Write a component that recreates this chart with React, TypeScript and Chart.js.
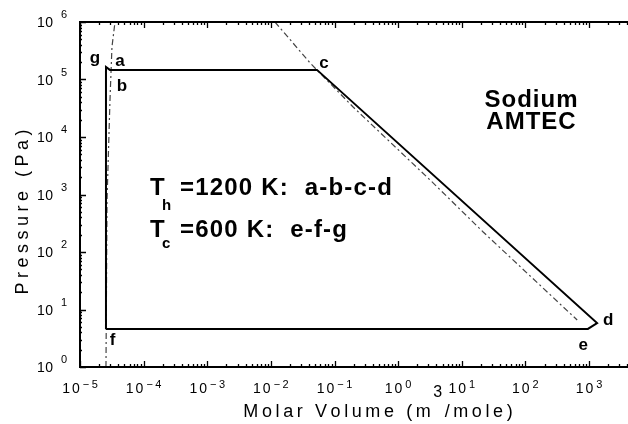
import React, { useEffect, useRef } from 'react';
import { Chart, registerables } from 'chart.js';

Chart.register(...registerables);

// ---- Data ----
// Closed cycle path f -> g -> a/b -> c -> d -> e -> f  (molar volume m^3/mole, pressure Pa)
const cycleVolume = [2.56e-5, 2.56e-5, 2.95e-5, 0.053, 1340, 960, 2.56e-5];
const cyclePressure = [4.6, 1.65e5, 1.47e5, 1.47e5, 5.8, 4.6, 4.6];

// Dash-dot curve near the liquid volume
const liquidVolume = [2.56e-5, 2.66e-5, 2.96e-5, 3.18e-5, 3.55e-5];
const liquidPressure = [1, 800, 4.4e4, 3.7e5, 1e6];

// Dash-dot curve near the hot isotherm
const vaporVolume = [0.0116, 0.0413, 0.196, 3.18, 21.7, 652];
const vaporPressure = [1e6, 1.94e5, 3.33e4, 1786, 223, 6.56];

// State point letters (placed in data space, baseline-centre)
const pointLabels = ['g', 'a', 'b', 'c', 'd', 'e', 'f'];
const pointLabelVolume = [1.72e-5, 4.26e-5, 4.57e-5, 0.0685, 2004, 811, 3.24e-5];
const pointLabelPressure = [1.94e5, 1.72e5, 6.3e4, 1.58e5, 5.37, 1.98, 2.41];

// Axis ticks (decades) and their exponent labels
const xTickExps = [-5, -4, -3, -2, -1, 0, 1, 2, 3];
const xTickLabels = ['\u22125', '\u22124', '\u22123', '\u22122', '\u22121', '0', '1', '2', '3'];
const yTickExps = [0, 1, 2, 3, 4, 5, 6];
const yTickLabels = ['0', '1', '2', '3', '4', '5', '6'];

const FONT = '"Liberation Sans", Arial, Helvetica, sans-serif';

type TextOpt = { align?: 'left' | 'center' | 'right'; ls?: number; weight?: string; rotate?: number };

function setFont(ctx: CanvasRenderingContext2D, size: number, weight: string) {
  ctx.font = `${weight} ${size}px ${FONT}`;
}

function textWidth(ctx: CanvasRenderingContext2D, text: string, size: number, ls = 0, weight = 'normal') {
  ctx.save();
  setFont(ctx, size, weight);
  let w = 0;
  if (ls === 0) {
    w = ctx.measureText(text).width;
  } else {
    for (const ch of Array.from(text)) w += ctx.measureText(ch).width;
    w += ls * Math.max(0, Array.from(text).length - 1);
  }
  ctx.restore();
  return w;
}

function drawText(ctx: CanvasRenderingContext2D, text: string, x: number, y: number, size: number, opt: TextOpt = {}) {
  const { align = 'left', ls = 0, weight = 'normal', rotate = 0 } = opt;
  const w = textWidth(ctx, text, size, ls, weight);
  ctx.save();
  ctx.translate(x, y);
  if (rotate) ctx.rotate(rotate);
  setFont(ctx, size, weight);
  ctx.textAlign = 'left';
  ctx.textBaseline = 'alphabetic';
  ctx.fillStyle = '#000';
  let cx = align === 'left' ? 0 : align === 'center' ? -w / 2 : -w;
  if (ls === 0) {
    ctx.fillText(text, cx, 0);
  } else {
    for (const ch of Array.from(text)) {
      ctx.fillText(ch, cx, 0);
      cx += ctx.measureText(ch).width + ls;
    }
  }
  ctx.restore();
  return w;
}

const decorPlugin = {
  id: 'amtecDecor',
  afterDraw(chart: any) {
    const ctx: CanvasRenderingContext2D = chart.ctx;
    const xs = chart.scales.x;
    const ys = chart.scales.y;
    const { left, right, top, bottom } = chart.chartArea;
    ctx.save();
    ctx.strokeStyle = '#000';
    ctx.fillStyle = '#000';

    // frame: top, left, bottom
    ctx.lineWidth = 2;
    ctx.beginPath();
    ctx.moveTo(right, top);
    ctx.lineTo(left, top);
    ctx.lineTo(left, bottom);
    ctx.lineTo(right, bottom);
    ctx.stroke();

    // inward ticks
    ctx.lineWidth = 1.3;
    ctx.beginPath();
    for (let e = xTickExps[0]; e <= xTickExps[xTickExps.length - 1] + 1; e++) {
      for (let m = 1; m <= 9; m++) {
        const v = m * Math.pow(10, e);
        if (v < xs.min * 0.999 || v > xs.max) continue;
        const px = Math.round(xs.getPixelForValue(v)) + 0.5;
        const len = m === 1 ? 6 : 3;
        ctx.moveTo(px, bottom);
        ctx.lineTo(px, bottom - len);
        ctx.moveTo(px, top);
        ctx.lineTo(px, top + len);
      }
    }
    for (let e = yTickExps[0]; e <= yTickExps[yTickExps.length - 1]; e++) {
      for (let m = 1; m <= 9; m++) {
        const v = m * Math.pow(10, e);
        if (v < ys.min * 0.999 || v > ys.max * 1.001) continue;
        const py = Math.round(ys.getPixelForValue(v)) + 0.5;
        const len = m === 1 ? 6 : 2;
        ctx.moveTo(left, py);
        ctx.lineTo(left + len, py);
      }
    }
    ctx.stroke();

    // x tick labels
    xTickExps.forEach((e, i) => {
      const px = xs.getPixelForValue(Math.pow(10, e));
      const wb = textWidth(ctx, '10', 14, 2);
      const we = textWidth(ctx, xTickLabels[i], 11, 2.5);
      const gap = 3;
      const x0 = px - (wb + gap + we) / 2;
      drawText(ctx, '10', x0, bottom + 26, 14, { ls: 2 });
      drawText(ctx, xTickLabels[i], x0 + wb + gap, bottom + 21, 11, { ls: 2.5 });
    });

    // y tick labels
    yTickExps.forEach((e, i) => {
      const py = ys.getPixelForValue(Math.pow(10, e));
      drawText(ctx, '10', left - 27, py + 5, 14, { align: 'right', ls: 0.5 });
      drawText(ctx, yTickLabels[i], left - 19, py - 4, 11);
    });

    // x axis title with superscript
    {
      const s1 = 'Molar Volume (m';
      const s2 = '3';
      const s3 = '/mole)';
      const ls = 3.6;
      const w1 = textWidth(ctx, s1, 18, ls);
      const w2 = textWidth(ctx, s2, 16, 0);
      const w3 = textWidth(ctx, s3, 18, ls);
      const g = 2.5;
      const total = w1 + g + w2 + g + w3;
      let x = 378 - total / 2;
      const base = 417;
      drawText(ctx, s1, x, base, 18, { ls });
      x += w1 + g;
      drawText(ctx, s2, x, base - 20, 16);
      x += w2 + g;
      drawText(ctx, s3, x, base, 18, { ls });
    }

    // y axis title
    drawText(ctx, 'Pressure (Pa)', 28, 212, 18, { align: 'center', ls: 4.5, rotate: -Math.PI / 2 });

    // state point letters
    pointLabels.forEach((t, i) => {
      const px = xs.getPixelForValue(pointLabelVolume[i]);
      const py = ys.getPixelForValue(pointLabelPressure[i]);
      drawText(ctx, t, px, py, 17, { align: 'center', weight: 'bold' });
    });

    // annotation text
    drawText(ctx, 'Sodium', 531, 107, 24, { align: 'center', ls: 1, weight: 'bold' });
    drawText(ctx, 'AMTEC', 531, 129, 24, { align: 'center', ls: 1, weight: 'bold' });

    drawText(ctx, 'T', 150, 195, 24, { weight: 'bold' });
    drawText(ctx, 'h', 162, 210, 15, { weight: 'bold' });
    drawText(ctx, '=1200 K:  a-b-c-d', 180, 195, 24, { ls: 1.2, weight: 'bold' });

    drawText(ctx, 'T', 150, 237, 24, { weight: 'bold' });
    drawText(ctx, 'c', 162, 248, 15, { weight: 'bold' });
    drawText(ctx, '=600 K:  e-f-g', 180, 237, 24, { ls: 1.2, weight: 'bold' });

    ctx.restore();
  },
};

function toPoints(xs: number[], ys: number[]) {
  return xs.map((x, i) => ({ x, y: ys[i] }));
}

export default function App() {
  const canvasRef = useRef<HTMLCanvasElement | null>(null);

  useEffect(() => {
    if (!canvasRef.current) return;
    const chart = new Chart(canvasRef.current, {
      type: 'scatter',
      data: {
        datasets: [
          {
            label: 'Cycle',
            data: toPoints(cycleVolume, cyclePressure),
            showLine: true,
            borderColor: '#000',
            borderWidth: 2,
            pointRadius: 0,
            tension: 0,
            order: 0,
          },
          {
            label: 'Liquid',
            data: toPoints(liquidVolume, liquidPressure),
            showLine: true,
            borderColor: '#444',
            borderWidth: 1.2,
            borderDash: [6, 3, 2, 3],
            pointRadius: 0,
            tension: 0,
            order: 1,
          },
          {
            label: 'Vapor',
            data: toPoints(vaporVolume, vaporPressure),
            showLine: true,
            borderColor: '#444',
            borderWidth: 1.2,
            borderDash: [6, 3, 2, 3],
            pointRadius: 0,
            tension: 0,
            order: 2,
          },
        ],
      },
      options: {
        responsive: false,
        maintainAspectRatio: false,
        animation: false,
        devicePixelRatio: 1,
        layout: { padding: { left: 0, right: 0, top: 22, bottom: 0 } },
        plugins: {
          legend: { display: false },
          tooltip: { enabled: false },
          title: { display: false },
        },
        scales: {
          x: {
            type: 'logarithmic',
            position: 'bottom',
            min: 1e-5,
            max: 4100,
            grid: { display: false },
            border: { display: false },
            ticks: { display: false },
            afterBuildTicks: (s: any) => {
              s.ticks = xTickExps.map((e) => ({ value: Math.pow(10, e) }));
            },
            afterFit: (s: any) => {
              s.height = 57;
            },
          },
          y: {
            type: 'logarithmic',
            position: 'left',
            min: 1,
            max: 1e6,
            grid: { display: false },
            border: { display: false },
            ticks: { display: false },
            afterBuildTicks: (s: any) => {
              s.ticks = yTickExps.map((e) => ({ value: Math.pow(10, e) }));
            },
            afterFit: (s: any) => {
              s.width = 80;
            },
          },
        },
      } as any,
      plugins: [decorPlugin],
    });
    return () => chart.destroy();
  }, []);

  return (
    <div style={{ position: 'absolute', left: 0, top: 0, width: 628, height: 424, background: '#fff' }}>
      <canvas ref={canvasRef} width={628} height={424} style={{ display: 'block' }} />
    </div>
  );
}
